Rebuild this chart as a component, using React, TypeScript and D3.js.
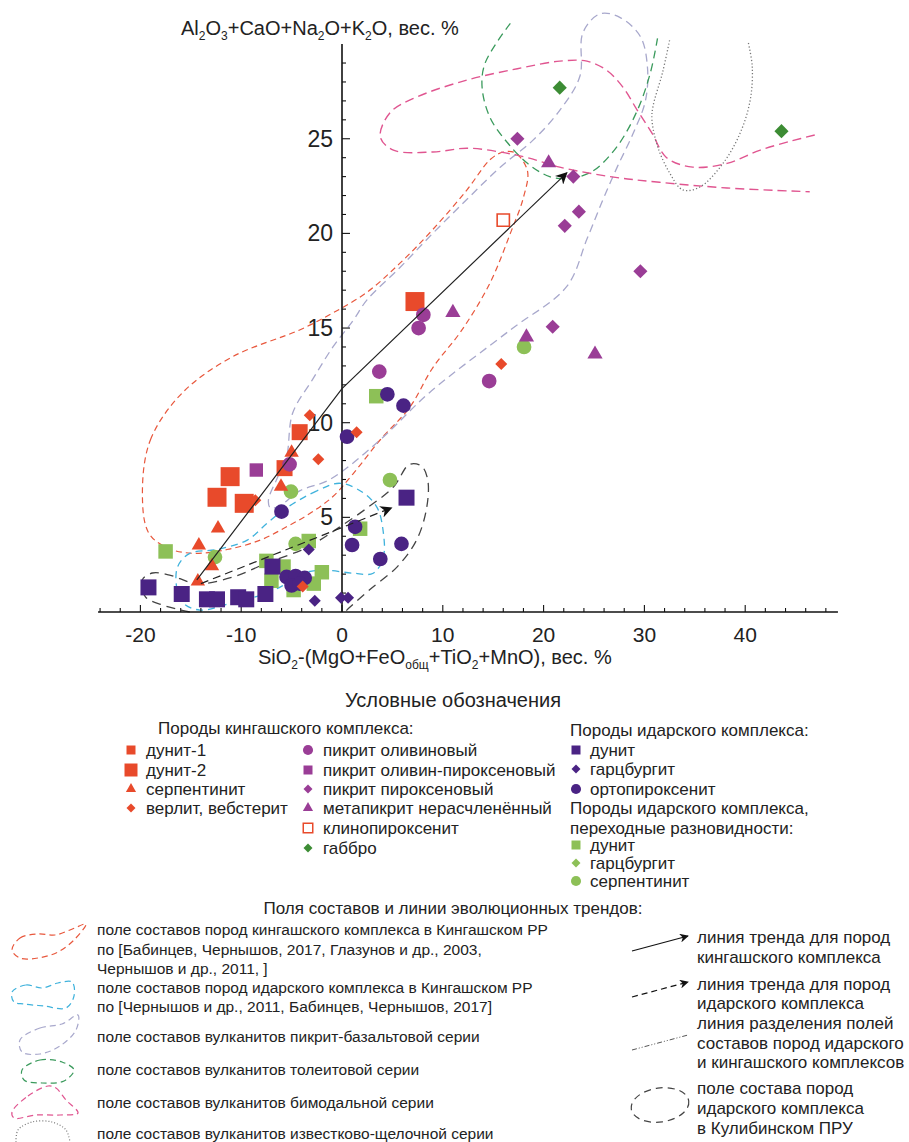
import React, { useEffect } from 'react';
import * as d3 from 'd3';

type Pt = [number, number];

// Породы кингашского комплекса
const dunite1: Pt[] = [[-4.2, 9.5], [-5.7, 7.6]];
const dunite2: Pt[] = [[-11.1, 7.15], [-12.4, 6.06], [-9.7, 5.74], [7.24, 16.4]];
const serpentinite: Pt[] = [[-5.0, 8.5], [-6.05, 6.7], [-12.3, 4.5], [-14.2, 3.6], [-14.3, 1.7], [-12.9, 2.5]];
const wehrlite: Pt[] = [[-3.2, 10.4], [-2.35, 8.07], [-8.6, 5.9], [1.45, 9.5], [15.8, 13.1], [-3.9, 1.35]];
const picriteOl: Pt[] = [[-5.2, 7.8], [3.7, 12.7], [14.6, 12.2], [8.07, 15.7], [7.6, 15.0]];
const picriteOlPx: Pt[] = [[-8.5, 7.5]];
const picritePx: Pt[] = [[17.4, 25.0], [22.95, 23.0], [23.5, 21.15], [22.1, 20.4], [29.6, 18.0], [20.9, 15.07]];
const metapicrite: Pt[] = [[20.5, 23.8], [11.0, 15.9], [18.3, 14.6], [25.1, 13.7]];
const clinopyroxenite: Pt[] = [[16.0, 20.7]];
const gabbro: Pt[] = [[21.6, 27.7], [43.6, 25.4]];

// Породы идарского комплекса
const idDunite: Pt[] = [[-19.2, 1.3], [-15.9, 0.95], [-13.4, 0.67], [-12.4, 0.67], [-10.3, 0.78], [-9.5, 0.67], [-7.6, 0.95], [-6.9, 2.4], [6.4, 6.04]];
const idHarzburgite: Pt[] = [[-3.3, 3.3], [-2.7, 0.6], [-0.1, 0.75], [0.6, 0.75]];
const idOrthopyroxenite: Pt[] = [[0.5, 9.26], [4.5, 11.5], [6.1, 10.9], [1.3, 4.5], [1.0, 3.54], [3.8, 2.8], [5.9, 3.6], [-6.0, 5.3], [-5.5, 1.85], [-4.6, 1.9], [-3.7, 1.8], [-5.0, 1.4], [-4.2, 1.5]];

// переходные разновидности
const trDunite: Pt[] = [[-17.5, 3.2], [-7.5, 2.7], [-5.8, 2.4], [-7.0, 1.65], [-4.8, 1.16], [-3.3, 3.75], [-2.0, 2.1], [-2.8, 1.5], [3.4, 11.4], [1.8, 4.4]];
const trHarzburgite: Pt[] = [];
const trSerpentinite: Pt[] = [[-12.6, 2.9], [-5.06, 6.36], [-4.6, 3.6], [18.06, 14.0], [4.76, 6.97]];

// Поля составов
const kingashField: Pt[] = [[-19.8, 6.3], [-19.0, 9.1], [-15.8, 11.6], [-10.8, 13.5], [-4.2, 14.9], [-0.9, 15.8], [2.5, 16.9], [5.7, 18.4], [9.0, 20.2], [12.4, 22.3], [14.7, 23.9], [16.0, 24.3], [17.2, 24.25], [18.4, 23.3], [18.0, 21.9], [16.7, 20.0], [14.7, 17.4], [11.9, 14.9], [9.0, 12.9], [6.7, 10.8], [3.8, 9.1], [1.1, 7.3], [-0.9, 6.1], [-3.2, 5.2], [-5.5, 4.5], [-8.1, 3.8], [-11.4, 3.3], [-14.8, 3.1], [-17.4, 3.4], [-19.2, 4.2]];
const idarField: Pt[] = [[-0.2, 6.8], [-2.5, 6.4], [-5.5, 5.5], [-7.4, 4.7], [-9.4, 3.8], [-12.4, 3.3], [-15.1, 3.1], [-16.3, 2.4], [-16.4, 1.3], [-15.8, 0.5], [-14.1, 0.1], [-10.8, 0.5], [-7.4, 1.0], [-5.5, 1.5], [-3.5, 2.1], [-1.5, 2.2], [1.1, 2.05], [3.1, 2.05], [4.1, 2.9], [4.1, 4.2], [3.5, 5.5], [2.1, 6.3]];
const picBasaltField: Pt[] = [[-7.3, 5.9], [-6.4, 7.1], [-5.5, 8.2], [-4.9, 10.5], [-2.9, 12.3], [-0.9, 14.0], [1.1, 15.4], [2.5, 16.5], [5.75, 18.2], [9.0, 20.0], [12.4, 21.8], [15.7, 23.5], [18.9, 24.9], [21.6, 26.5], [23.6, 28.3], [23.9, 30.6], [25.6, 31.6], [27.6, 31.4], [29.6, 30.4], [30.3, 28.8], [30.1, 27.0], [28.9, 25.3], [27.3, 23.5], [25.9, 21.8], [24.3, 19.7], [22.3, 17.2], [16.7, 14.9], [8.7, 11.6], [3.8, 9.1], [-1.2, 7.0], [-4.2, 6.4], [-6.2, 5.6], [-7.1, 5.5]];
const tholeiiteField: Pt[] = [[16.7, 31.1], [14.2, 29.0], [13.9, 27.7], [14.7, 26.1], [16.4, 24.8], [18.4, 23.7], [20.6, 23.0], [22.6, 22.9], [24.9, 23.3], [27.3, 24.6], [29.3, 26.5], [30.6, 28.5], [31.3, 30.3]];
const bimodalField: Pt[] = [[46.9, 25.2], [44.7, 24.9], [41.5, 24.4], [38.2, 23.7], [34.8, 23.5], [32.2, 24.0], [30.75, 25.3], [29.3, 26.5], [27.9, 27.7], [26.3, 28.6], [24.3, 29.1], [21.6, 29.1], [17.4, 28.7], [12.4, 28.1], [7.4, 27.2], [4.8, 26.4], [3.8, 25.1], [5.1, 24.4], [9.0, 24.3], [12.4, 24.5], [15.7, 24.3], [18.4, 24.0], [21.6, 23.5], [26.6, 23.0], [31.5, 22.7], [38.2, 22.4], [46.4, 22.2]];
const calcAlkField: Pt[] = [[32.5, 30.2], [31.8, 28.5], [30.85, 26.7], [30.75, 26.0], [31.3, 24.6], [32.5, 23.2], [33.8, 22.3], [35.5, 22.45], [37.8, 23.7], [39.5, 25.3], [40.5, 27.05], [40.7, 28.8], [40.3, 30.1]];
const kulibaField: Pt[] = [[-15.1, 0], [-17.8, 0.37], [-19.5, 0.8], [-19.8, 1.7], [-18.8, 2.06], [-17.1, 1.95], [-14.4, 1.5], [-10.8, 1.85], [-7.4, 2.6], [-3.5, 3.4], [-0.2, 4.5], [2.5, 5.5], [5.1, 6.6], [6.7, 7.8], [7.9, 7.7], [8.5, 7.0], [8.4, 5.5], [7.4, 3.8], [5.5, 2.4], [2.8, 1.2], [0.8, 0.26], [0.3, 0]];

// Линии трендов
const kingashTrend: Pt[] = [[-14.4, 1.7], [0, 11.8], [22.3, 23.2]];
const idarTrend: Pt[] = [[-14.0, 1.5], [4.9, 5.5]];

const xMajor = [-20, -10, 0, 10, 20, 30, 40];
const yMajor = [5, 10, 15, 20, 25];

const RED = '#e84a2b';
const MAG = '#9a3d96';
const IND = '#4a2384';
const LGR = '#8dc057';
const DGR = '#3c8c34';

const FONT = '"Liberation Sans", Arial, sans-serif';

const x = d3.scaleLinear().domain([-20, 40]).range([140.4, 745.2]);
const y = d3.scaleLinear().domain([0, 25]).range([612, 138.75]);

type Kind = 'square' | 'circle' | 'triangle' | 'diamond';
const symPath = (k: Kind, size: number) => {
  const t = k === 'square' || k === 'diamond' ? d3.symbolSquare : k === 'circle' ? d3.symbolCircle : d3.symbolTriangle;
  return d3.symbol(t, size)() as string;
};

const Marks = ({ data, kind, size, fill, stroke }: { data: Pt[]; kind: Kind; size: number; fill: string; stroke?: string }) => (
  <g>
    {data.map((d, i) => (
      <path key={i} d={symPath(kind, size)}
        transform={`translate(${x(d[0])},${y(d[1]) + (kind === 'triangle' ? 1.5 : 0)})${kind === 'diamond' ? ' rotate(45)' : ''}`}
        fill={fill} stroke={stroke || 'none'} strokeWidth={stroke ? 1.6 : 0} />
    ))}
  </g>
);

const LegMark = ({ cx, cy, kind, size, fill, stroke }: { cx: number; cy: number; kind: Kind; size: number; fill: string; stroke?: string }) => (
  <path d={symPath(kind, size)} transform={`translate(${cx},${cy})${kind === 'diamond' ? ' rotate(45)' : ''}`}
    fill={fill} stroke={stroke || 'none'} strokeWidth={stroke ? 1.5 : 0} />
);

const closedLine = d3.line<Pt>().x(d => x(d[0])).y(d => y(d[1])).curve(d3.curveCatmullRomClosed.alpha(0.5));
const openLine = d3.line<Pt>().x(d => x(d[0])).y(d => y(d[1])).curve(d3.curveCatmullRom.alpha(0.5));
const straight = d3.line<Pt>().x(d => x(d[0])).y(d => y(d[1]));
const iconClosed = d3.line<Pt>().curve(d3.curveCatmullRomClosed.alpha(0.5));
const iconOpen = d3.line<Pt>().curve(d3.curveCatmullRom.alpha(0.5));

const T = ({ x: tx, y: ty, children, size = 17, anchor = 'start' }: any) => (
  <text x={tx} y={ty} fontSize={size} textAnchor={anchor} fill="#222" fontFamily={FONT} dominantBaseline="central">{children}</text>
);

export default function App() {
  useEffect(() => { document.body.style.margin = '0'; }, []);
  const minorX = d3.range(-24, 49, 2);
  const minorY = d3.range(1, 30, 1);
  const ax0 = x(0), ay0 = y(0);
  const leftRows = [750, 770, 789, 808];
  const midRows = [750, 770, 789, 808, 828, 848];
  return (
    <svg width={909} height={1142} style={{ display: 'block', background: '#fff' }}>
      <defs>
        <marker id="arr" viewBox="0 0 10 10" refX="9" refY="5" markerWidth="9" markerHeight="9" orient="auto" markerUnits="userSpaceOnUse">
          <path d="M0,0 L10,5 L0,10 L3,5 Z" fill="#111" />
        </marker>
        <marker id="arrL" viewBox="0 0 10 10" refX="9" refY="5" markerWidth="12" markerHeight="12" orient="auto" markerUnits="userSpaceOnUse">
          <path d="M0,0 L10,5 L0,10 L3,5 Z" fill="#111" />
        </marker>
      </defs>

      {/* fields */}
      <path d={closedLine(kingashField) as string} fill="none" stroke="#e8573c" strokeWidth={1.2} strokeDasharray="6 4" />
      <path d={closedLine(picBasaltField) as string} fill="none" stroke="#a8a8cc" strokeWidth={1.3} strokeDasharray="8 5" />
      <path d={closedLine(idarField) as string} fill="none" stroke="#3fb2dc" strokeWidth={1.3} strokeDasharray="7 5" />
      <path d={openLine(tholeiiteField) as string} fill="none" stroke="#3a9a5c" strokeWidth={1.3} strokeDasharray="8 5" />
      <path d={openLine(bimodalField) as string} fill="none" stroke="#e05590" strokeWidth={1.4} strokeDasharray="9 5" />
      <path d={openLine(calcAlkField) as string} fill="none" stroke="#777" strokeWidth={1.3} strokeDasharray="1.2 2.2" />
      <path d={openLine(kulibaField) as string} fill="none" stroke="#444" strokeWidth={1.3} strokeDasharray="9 6" />

      {/* axes */}
      <g stroke="#111">
        <line x1={x(-24.2)} x2={x(49.2)} y1={ay0} y2={ay0} strokeWidth={1.6} />
        <line x1={ax0} x2={ax0} y1={ay0} y2={y(30)} strokeWidth={1.6} />
        {minorX.map(v => <line key={'mx' + v} x1={x(v)} x2={x(v)} y1={ay0} y2={ay0 - (v % 10 === 0 ? 7 : 4)} strokeWidth={1.1} />)}
        {minorY.map(v => <line key={'my' + v} x1={ax0} x2={ax0 + (v % 5 === 0 ? 8 : 4)} y1={y(v)} y2={y(v)} strokeWidth={1.1} />)}
      </g>
      {xMajor.map(v => <T key={'xl' + v} x={x(v)} y={ay0 + 22} size={21} anchor="middle">{v}</T>)}
      {yMajor.map(v => <T key={'yl' + v} x={ax0 - 9} y={y(v)} size={23} anchor="end">{v}</T>)}
      <text x={181} y={35} fontSize={20} fontFamily={FONT} fill="#222">
        Al<tspan fontSize={12} dy={5}>2</tspan><tspan dy={-5}>O</tspan><tspan fontSize={12} dy={5}>3</tspan><tspan dy={-5}>+CaO+Na</tspan><tspan fontSize={12} dy={5}>2</tspan><tspan dy={-5}>O+K</tspan><tspan fontSize={12} dy={5}>2</tspan><tspan dy={-5}>O, вес. %</tspan>
      </text>
      <text x={258} y={664} fontSize={20} fontFamily={FONT} fill="#222">
        SiO<tspan fontSize={12} dy={5}>2</tspan><tspan dy={-5}>-(MgO+FeO</tspan><tspan fontSize={12} dy={5}>общ</tspan><tspan dy={-5}>+TiO</tspan><tspan fontSize={12} dy={5}>2</tspan><tspan dy={-5}>+MnO), вес. %</tspan>
      </text>

      {/* points */}
      <Marks data={trDunite} kind="square" size={210} fill={LGR} />
      <Marks data={trHarzburgite} kind="diamond" size={64} fill={LGR} />
      <Marks data={trSerpentinite} kind="circle" size={170} fill={LGR} />
      <Marks data={idDunite} kind="square" size={256} fill={IND} />
      <Marks data={idHarzburgite} kind="diamond" size={72} fill={IND} />
      <Marks data={idOrthopyroxenite} kind="circle" size={170} fill={IND} />
      <Marks data={dunite1} kind="square" size={256} fill={RED} />
      <Marks data={dunite2} kind="square" size={361} fill={RED} />
      <Marks data={serpentinite} kind="triangle" size={90} fill={RED} />
      <Marks data={wehrlite} kind="diamond" size={72} fill={RED} />
      <Marks data={picriteOl} kind="circle" size={170} fill={MAG} />
      <Marks data={picriteOlPx} kind="square" size={180} fill={MAG} />
      <Marks data={picritePx} kind="diamond" size={100} fill={MAG} />
      <Marks data={metapicrite} kind="triangle" size={100} fill={MAG} />
      <Marks data={clinopyroxenite} kind="square" size={150} fill="#fff" stroke={RED} />
      <Marks data={gabbro} kind="diamond" size={100} fill={DGR} />

      {/* trends */}
      <path d={straight(kingashTrend) as string} fill="none" stroke="#222" strokeWidth={1.2} markerEnd="url(#arrL)" />
      <path d={straight(idarTrend) as string} fill="none" stroke="#222" strokeWidth={1.2} strokeDasharray="8 5" markerEnd="url(#arrL)" />

      {/* legend */}
      <T x={453} y={700} size={20} anchor="middle">Условные обозначения</T>
      <T x={158} y={728}>Породы кингашского комплекса:</T>
      <LegMark cx={131} cy={leftRows[0]} kind="square" size={81} fill={RED} />
      <LegMark cx={131} cy={leftRows[1]} kind="square" size={169} fill={RED} />
      <LegMark cx={131} cy={leftRows[2]} kind="triangle" size={45} fill={RED} />
      <LegMark cx={131} cy={leftRows[3]} kind="diamond" size={40} fill={RED} />
      {['дунит-1', 'дунит-2', 'серпентинит', 'верлит, вебстерит'].map((s, i) => <T key={s} x={146} y={leftRows[i]}>{s}</T>)}

      <LegMark cx={308} cy={midRows[0]} kind="circle" size={80} fill={MAG} />
      <LegMark cx={308} cy={midRows[1]} kind="square" size={81} fill={MAG} />
      <LegMark cx={308} cy={midRows[2]} kind="diamond" size={40} fill={MAG} />
      <LegMark cx={308} cy={midRows[3]} kind="triangle" size={45} fill={MAG} />
      <LegMark cx={308} cy={midRows[4]} kind="square" size={90} fill="#fff" stroke={RED} />
      <LegMark cx={308} cy={midRows[5]} kind="diamond" size={40} fill={DGR} />
      {['пикрит оливиновый', 'пикрит оливин-пироксеновый', 'пикрит пироксеновый', 'метапикрит нерасчленённый', 'клинопироксенит', 'габбро'].map((s, i) => <T key={s} x={323} y={midRows[i]}>{s}</T>)}

      <T x={570} y={730}>Породы идарского комплекса:</T>
      <LegMark cx={576} cy={750} kind="square" size={81} fill={IND} />
      <LegMark cx={576} cy={769} kind="diamond" size={40} fill={IND} />
      <LegMark cx={576} cy={789} kind="circle" size={80} fill={IND} />
      {['дунит', 'гарцбургит', 'ортопироксенит'].map((s, i) => <T key={s} x={590} y={[750, 769, 789][i]}>{s}</T>)}
      <T x={570} y={808}>Породы идарского комплекса,</T>
      <T x={570} y={828}>переходные разновидности:</T>
      <LegMark cx={576} cy={845} kind="square" size={81} fill={LGR} />
      <LegMark cx={576} cy={863} kind="diamond" size={40} fill={LGR} />
      <LegMark cx={576} cy={881} kind="circle" size={80} fill={LGR} />
      {['дунит', 'гарцбургит', 'серпентинит'].map((s, i) => <T key={s + 'tr'} x={590} y={[845, 863, 881][i]}>{s}</T>)}

      <T x={453} y={908} anchor="middle">Поля составов и линии эволюционных трендов:</T>
      {/* field icons */}
      <path d={iconClosed([[12, 950], [20, 938], [38, 934], [55, 935], [70, 930], [86, 924], [74, 940], [58, 952], [38, 958], [20, 958]]) as string} fill="none" stroke="#e8573c" strokeWidth={1.2} strokeDasharray="6 4" />
      <path d={iconClosed([[12, 992], [26, 985], [42, 988], [58, 983], [72, 982], [74, 996], [66, 1008], [44, 1006], [24, 1004], [14, 1002]]) as string} fill="none" stroke="#3fb2dc" strokeWidth={1.2} strokeDasharray="6 4" />
      <path d={iconClosed([[20, 1040], [40, 1028], [62, 1024], [78, 1015], [76, 1030], [60, 1046], [40, 1054], [22, 1052]]) as string} fill="none" stroke="#a8a8cc" strokeWidth={1.2} strokeDasharray="6 4" />
      <path d={iconClosed([[22, 1070], [40, 1060], [62, 1062], [74, 1070], [64, 1081], [42, 1083], [24, 1080]]) as string} fill="none" stroke="#3a9a5c" strokeWidth={1.2} strokeDasharray="6 4" />
      <path d={iconClosed([[12, 1112], [28, 1096], [48, 1086], [56, 1088], [66, 1100], [78, 1113], [60, 1115], [36, 1115], [14, 1118]]) as string} fill="none" stroke="#e05590" strokeWidth={1.2} strokeDasharray="6 4" />
      <path d={iconOpen([[16, 1142], [18, 1130], [32, 1122], [52, 1122], [66, 1130], [70, 1142]]) as string} fill="none" stroke="#777" strokeWidth={1.2} strokeDasharray="1 2" />
      {[
        ['поле составов пород кингашского комплекса в Кингашском РР', 929],
        ['по [Бабинцев, Чернышов, 2017, Глазунов и др., 2003,', 949],
        ['Чернышов и др., 2011, ]', 968],
        ['поле составов пород идарского комплекса в Кингашском РР', 987],
        ['по [Чернышов и др., 2011, Бабинцев, Чернышов, 2017]', 1006],
        ['поле составов вулканитов пикрит-базальтовой серии', 1036],
        ['поле составов вулканитов толеитовой серии', 1069],
        ['поле составов вулканитов бимодальной серии', 1102],
        ['поле составов вулканитов известково-щелочной серии', 1133],
      ].map(([s, yy]) => <T key={s as string} x={97} y={yy} size={15.5}>{s}</T>)}

      <line x1={632} y1={951} x2={688} y2={936} stroke="#111" strokeWidth={1.2} markerEnd="url(#arr)" />
      <line x1={632} y1={997} x2={688} y2={982} stroke="#111" strokeWidth={1.2} strokeDasharray="6 4" markerEnd="url(#arr)" />
      <line x1={632} y1={1050} x2={688} y2={1035} stroke="#555" strokeWidth={1} strokeDasharray="5 2 1 2 1 2" />
      <ellipse cx={660} cy={1105} rx={29} ry={17} fill="none" stroke="#444" strokeWidth={1.2} strokeDasharray="7 5" transform="rotate(-8 660 1105)" />
      {[
        ['линия тренда для пород', 937],
        ['кингашского комплекса', 957],
        ['линия тренда для пород', 984],
        ['идарского комплекса', 1003],
        ['линия разделения полей', 1023],
        ['составов пород идарского', 1043],
        ['и кингашского комплексов', 1062],
        ['поле состава пород', 1088],
        ['идарского комплекса', 1108],
        ['в Кулибинском ПРУ', 1128],
      ].map(([s, yy], i) => <T key={i} x={697} y={yy}>{s}</T>)}
    </svg>
  );
}
